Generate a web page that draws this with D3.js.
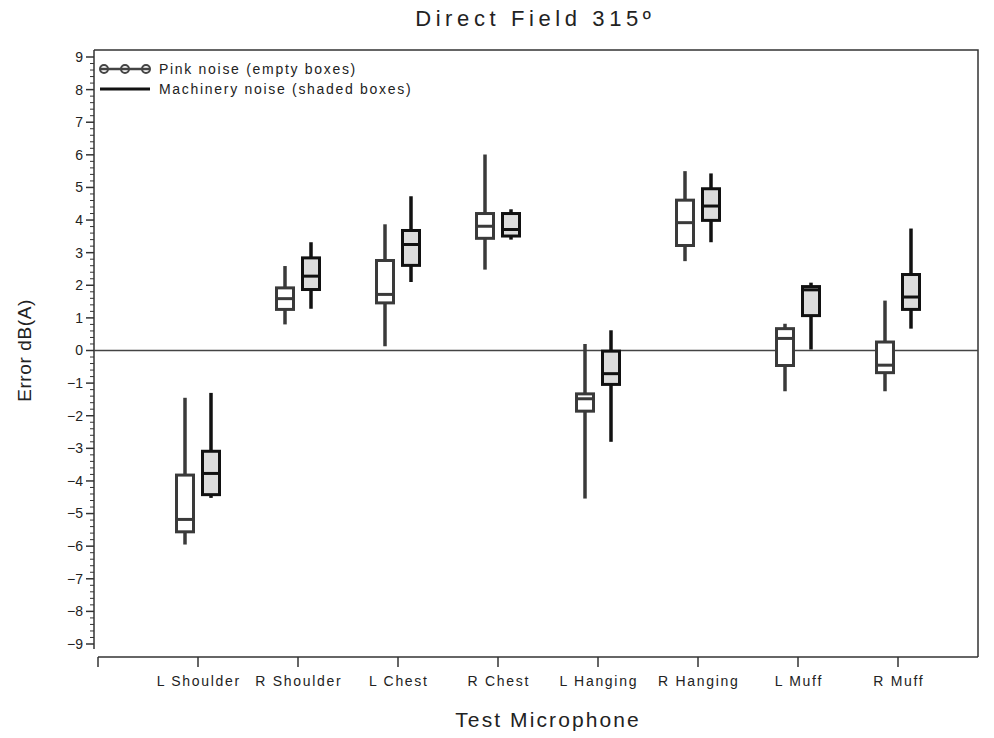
<!DOCTYPE html>
<html>
<head>
<meta charset="utf-8">
<script src="https://cdn.jsdelivr.net/npm/d3@7"></script>
<style>
  html, body { margin: 0; padding: 0; background: #fff; }
  svg { display: block; font-family: "Liberation Sans", Arial, sans-serif; }
</style>
</head>
<body>
<svg id="chart" width="994" height="738"></svg>
<script>
// Test microphone positions
const categories = ["L Shoulder", "R Shoulder", "L Chest", "R Chest", "L Hanging", "R Hanging", "L Muff", "R Muff"];

// Box statistics per microphone: [whisker low, Q1, median, Q3, whisker high], error in dB(A)
const pinkNoise = [
  [-5.95, -5.56, -5.18, -3.82, -1.45],
  [ 0.80,  1.26,  1.59,  1.92,  2.59],
  [ 0.13,  1.46,  1.72,  2.76,  3.87],
  [ 2.48,  3.44,  3.81,  4.20,  6.01],
  [-4.54, -1.86, -1.48, -1.33,  0.20],
  [ 2.74,  3.22,  3.92,  4.61,  5.50],
  [-1.25, -0.46,  0.37,  0.67,  0.82],
  [-1.25, -0.68, -0.45,  0.26,  1.53]
];
const machineryNoise = [
  [-4.52, -4.42, -3.77, -3.09, -1.30],
  [ 1.28,  1.87,  2.28,  2.84,  3.32],
  [ 2.10,  2.61,  3.25,  3.68,  4.73],
  [ 3.40,  3.51,  3.71,  4.20,  4.33],
  [-2.80, -1.04, -0.71, -0.02,  0.62],
  [ 3.32,  3.99,  4.43,  4.96,  5.43],
  [ 0.03,  1.07,  1.86,  1.96,  2.08],
  [ 0.67,  1.26,  1.64,  2.33,  3.74]
];

const yTicks = d3.range(-9, 10, 1);
const legendLabels = ["Pink noise (empty boxes)", "Machinery noise (shaded boxes)"];

const svg = d3.select("#chart");
const frame = { left: 94, top: 50, right: 978, bottom: 657 };

// Category i sits at position i+1 on a continuous axis
const x = d3.scaleLinear().domain([0, 8.8]).range([98, 978]);
const y = d3.scaleLinear().domain([-9, 9]).range([644, 57]);

const ink = "#222";

// Centered text with letter spacing (trailing gap compensated)
function spacedText(sel, size, spacing) {
  return sel.attr("font-size", size)
    .attr("letter-spacing", spacing)
    .attr("dx", spacing / 2)
    .attr("fill", ink);
}

// Title
spacedText(svg.append("text")
  .attr("x", 533).attr("y", 26)
  .attr("text-anchor", "middle"), 22, 4.6)
  .text("Direct Field 315\u00BA");

// Frame: top and right borders
svg.append("path")
  .attr("d", `M${frame.left},${frame.top}H${frame.right}V${frame.bottom}`)
  .attr("fill", "none").attr("stroke", "#333").attr("stroke-width", 1.5);

// Y axis with major and minor ticks
const yAxisG = svg.append("g").attr("transform", `translate(${frame.left},0)`);
yAxisG.append("line")
  .attr("y1", frame.top).attr("y2", 649)
  .attr("stroke", "#333").attr("stroke-width", 1.5);
const minor = d3.range(-9, 9.001, 0.2).filter(v => Math.abs(v - Math.round(v)) > 1e-6);
yAxisG.selectAll("line.minor").data(minor).join("line")
  .attr("class", "minor")
  .attr("x1", -4).attr("x2", 0)
  .attr("y1", d => y(d)).attr("y2", d => y(d))
  .attr("stroke", "#333").attr("stroke-width", 1);
yAxisG.selectAll("line.major").data(yTicks).join("line")
  .attr("class", "major")
  .attr("x1", -8).attr("x2", 0)
  .attr("y1", d => y(d)).attr("y2", d => y(d))
  .attr("stroke", "#333").attr("stroke-width", 1.5);
yAxisG.selectAll("text").data(yTicks).join("text")
  .attr("x", -11).attr("y", d => y(d))
  .attr("dy", "0.35em")
  .attr("text-anchor", "end")
  .attr("font-size", 14).attr("fill", ink)
  .text(d => d < 0 ? "\u2212" + Math.abs(d) : d);

// Y axis title
svg.append("text")
  .attr("transform", `translate(31,${y(0)}) rotate(-90)`)
  .attr("text-anchor", "middle")
  .attr("font-size", 19).attr("letter-spacing", 0.6).attr("fill", ink)
  .text("Error dB(A)");

// X axis
const xAxisG = svg.append("g").attr("transform", `translate(0,${frame.bottom})`);
xAxisG.append("line")
  .attr("x1", x(0)).attr("x2", frame.right)
  .attr("stroke", "#333").attr("stroke-width", 1.5);
xAxisG.selectAll("line.tick").data([0].concat(categories.map((c, i) => i + 1))).join("line")
  .attr("class", "tick")
  .attr("x1", d => x(d)).attr("x2", d => x(d))
  .attr("y1", 0).attr("y2", 10)
  .attr("stroke", "#333").attr("stroke-width", 1.5);
spacedText(xAxisG.selectAll("text").data(categories).join("text")
  .attr("x", (d, i) => x(i + 1)).attr("y", 29)
  .attr("text-anchor", "middle"), 14, 1.7)
  .text(d => d);

spacedText(svg.append("text")
  .attr("x", 547).attr("y", 727)
  .attr("text-anchor", "middle"), 21, 2.1)
  .text("Test Microphone");

// Zero reference line
svg.append("line")
  .attr("x1", frame.left).attr("x2", frame.right)
  .attr("y1", y(0)).attr("y2", y(0))
  .attr("stroke", "#444").attr("stroke-width", 1.5);

// Box plots
const boxW = 0.17;
function drawBoxes(data, offset, stroke, fill, cls) {
  const g = svg.append("g").attr("class", cls);
  data.forEach((s, i) => {
    const cx = x(i + 1 + offset);
    const half = (x(boxW) - x(0)) / 2;
    g.append("line")
      .attr("x1", cx).attr("x2", cx)
      .attr("y1", y(s[0])).attr("y2", y(s[4]))
      .attr("stroke", stroke).attr("stroke-width", 3.5);
    g.append("rect")
      .attr("x", cx - half).attr("width", half * 2)
      .attr("y", y(s[3])).attr("height", y(s[1]) - y(s[3]))
      .attr("fill", fill).attr("stroke", stroke).attr("stroke-width", 3);
    g.append("line")
      .attr("x1", cx - half).attr("x2", cx + half)
      .attr("y1", y(s[2])).attr("y2", y(s[2]))
      .attr("stroke", stroke).attr("stroke-width", 3);
  });
}
drawBoxes(pinkNoise, -0.13, "#3a3a3a", "#ffffff", "pink");
drawBoxes(machineryNoise, 0.13, "#111111", "#dcdcdc", "machinery");

// Legend
const lg = svg.append("g");
lg.append("line").attr("x1", 100).attr("x2", 150).attr("y1", 69).attr("y2", 69)
  .attr("stroke", "#444").attr("stroke-width", 2.5);
[104, 125, 146].forEach(cx => {
  lg.append("circle").attr("cx", cx).attr("cy", 69).attr("r", 4)
    .attr("fill", "none").attr("stroke", "#444").attr("stroke-width", 2);
});
lg.append("line").attr("x1", 100).attr("x2", 150).attr("y1", 89).attr("y2", 89)
  .attr("stroke", "#111").attr("stroke-width", 3);
lg.selectAll("text").data(legendLabels).join("text")
  .attr("x", 159).attr("y", (d, i) => 69 + i * 20)
  .attr("dy", "0.35em")
  .attr("font-size", 14).attr("letter-spacing", 1.7).attr("fill", ink)
  .text(d => d);
</script>
</body>
</html>
